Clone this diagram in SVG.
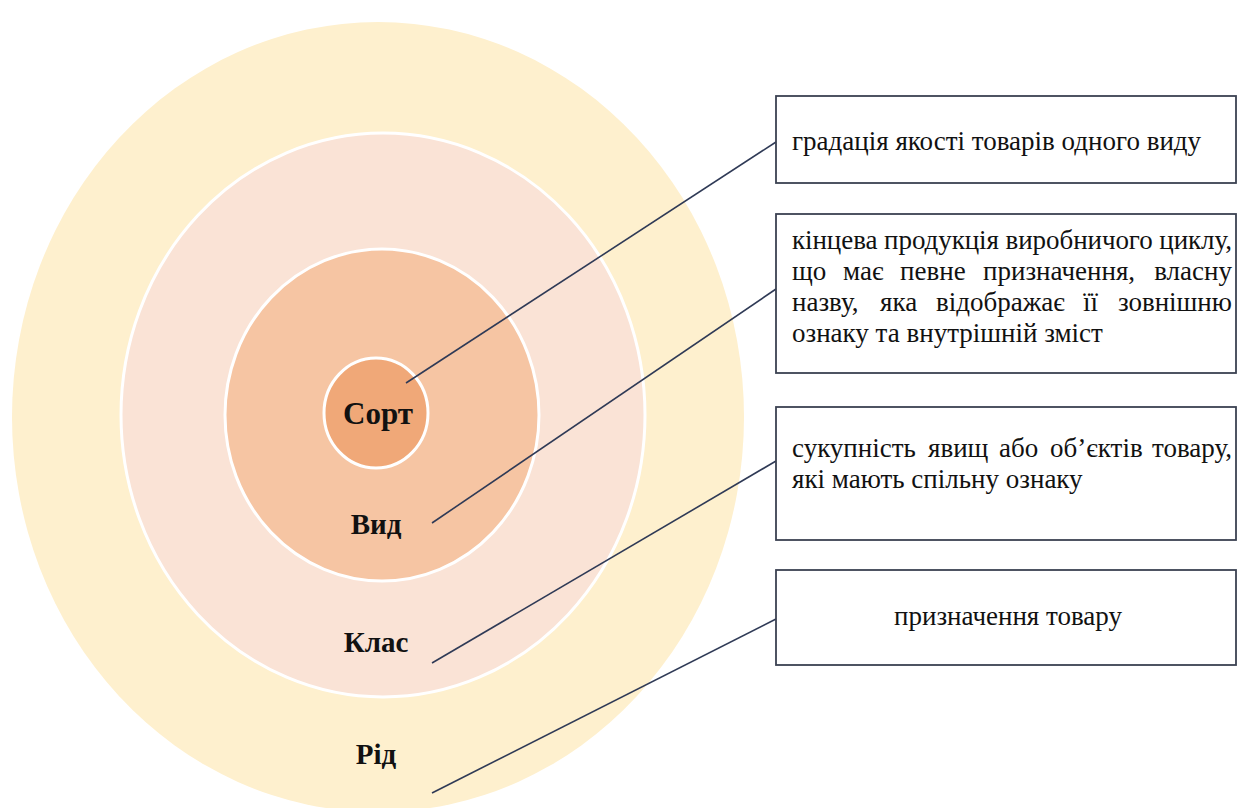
<svg xmlns="http://www.w3.org/2000/svg" width="1242" height="808" viewBox="0 0 1242 808">
<style>
.ring{stroke:#ffffff;stroke-width:3}
.lbl{font-family:"Liberation Serif","Times New Roman",serif;font-weight:bold;font-size:29px;fill:#111;text-anchor:middle}
.box{fill:#ffffff;stroke:#3b4252;stroke-width:1.8}
.txt{font-family:"Liberation Serif","Times New Roman",serif;font-size:27px;fill:#111}
.end{text-anchor:end}
.conn line{stroke:#2f3a56;stroke-width:1.6}
</style>
<rect width="1242" height="808" fill="#ffffff"/>
<g id="rid">
<ellipse cx="378" cy="417" rx="366" ry="395" fill="#fef0ce"/>
<text class="lbl" x="376" y="764">Рід</text>
</g>
<g id="klas">
<ellipse class="ring" cx="383" cy="415" rx="262" ry="282" fill="#fae3d6"/>
<text class="lbl" x="376" y="652">Клас</text>
</g>
<g id="vyd">
<ellipse class="ring" cx="382" cy="415" rx="157" ry="166" fill="#f6c5a3"/>
<text class="lbl" x="376" y="534">Вид</text>
</g>
<g id="sort">
<ellipse class="ring" cx="376" cy="413" rx="52" ry="55" fill="#f0a878"/>
<text class="lbl" x="378" y="424" style="font-size:31px">Сорт</text>
</g>
<g class="conn" id="connectors">
<line x1="406" y1="383" x2="776" y2="142"/>
<line x1="432" y1="523" x2="776" y2="289"/>
<line x1="432" y1="663" x2="776" y2="461"/>
<line x1="432" y1="793" x2="776" y2="619"/>
</g>
<g id="box1">
<rect class="box" x="776" y="96" width="460" height="87"/>
<text class="txt" x="792" y="150">градація якості товарів одного виду</text>
</g>
<g id="box2">
<rect class="box" x="776" y="214" width="460" height="159"/>
<text class="txt" x="792" y="249" textLength="440" lengthAdjust="spacing">кінцева продукція виробничого циклу,</text>
<text class="txt" y="280"><tspan x="792">що</tspan><tspan x="843">має</tspan><tspan x="900">певне</tspan><tspan x="983">призначення,</tspan></text>
<text class="txt end" x="1232" y="280">власну</text>
<text class="txt" y="311"><tspan x="792">назву,</tspan><tspan x="880">яка</tspan><tspan x="936">відображає</tspan><tspan x="1083">її</tspan></text>
<text class="txt end" x="1232" y="311">зовнішню</text>
<text class="txt" x="792" y="342">ознаку та внутрішній зміст</text>
</g>
<g id="box3">
<rect class="box" x="776" y="407" width="460" height="133"/>
<text class="txt" y="457"><tspan x="792">сукупність</tspan><tspan x="928">явищ</tspan><tspan x="999">або</tspan><tspan x="1050">об’єктів</tspan></text>
<text class="txt end" x="1232" y="457">товару,</text>
<text class="txt" x="792" y="488">які мають спільну ознаку</text>
</g>
<g id="box4">
<rect class="box" x="776" y="570" width="460" height="95"/>
<text class="txt" x="1008" y="625" text-anchor="middle">призначення товару</text>
</g>
</svg>
